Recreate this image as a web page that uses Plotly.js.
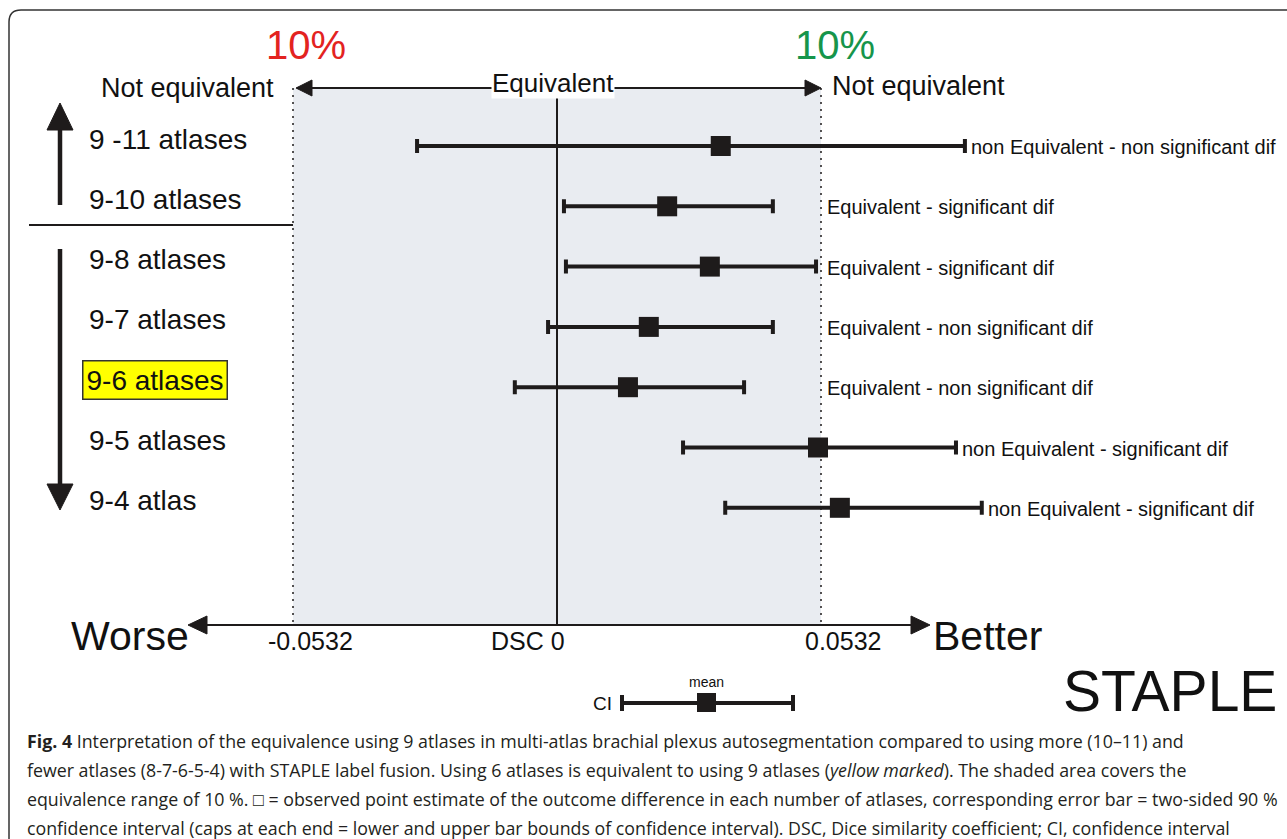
<!DOCTYPE html>
<html><head><meta charset="utf-8">
<script src="https://cdn.plot.ly/plotly-3.0.1.min.js"></script>
<style>html,body{margin:0;padding:0;background:#fff;overflow:hidden}</style>
</head><body><div id="chart" style="width:1287px;height:839px"></div>
<script>
// ---- data ----
const comparisons = ['9 -11 atlases', '9-10 atlases', '9-8 atlases', '9-7 atlases', '9-6 atlases', '9-5 atlases', '9-4 atlas'];
const meanDiff = [0.0330, 0.0222, 0.0308, 0.0185, 0.0143, 0.0526, 0.0570];
const ciLower  = [-0.0282, 0.0014, 0.0018, -0.0018, -0.0085, 0.0254, 0.0339];
const ciUpper  = [0.0822, 0.0435, 0.0522, 0.0435, 0.0377, 0.0804, 0.0856];
const verdicts = [
  'non Equivalent - non significant dif',
  'Equivalent - significant dif',
  'Equivalent - significant dif',
  'Equivalent - non significant dif',
  'Equivalent - non significant dif',
  'non Equivalent - significant dif',
  'non Equivalent - significant dif'
];
const highlighted = '9-6 atlases';
const eqBound = 0.0532;
const eqPercent = '10%';
const methodName = 'STAPLE';
const captionLines = [
  '<b>Fig. 4</b> Interpretation of the equivalence using 9 atlases in multi-atlas brachial plexus autosegmentation compared to using more (10–11) and',
  'fewer atlases (8-7-6-5-4) with STAPLE label fusion. Using 6 atlases is equivalent to using 9 atlases (<i>yellow marked</i>). The shaded area covers the',
  'equivalence range of 10 %. □ = observed point estimate of the outcome difference in each number of atlases, corresponding error bar = two-sided 90 %',
  'confidence interval (caps at each end = lower and upper bar bounds of confidence interval). DSC, Dice similarity coefficient; CI, confidence interval'
];

// ---- geometry (page layout) ----
const W = 1287, H = 839;
const zeroPx = 557, boundPx = 821;
const perPx = eqBound / (boundPx - zeroPx);
const xRange = [-zeroPx * perPx, (W - zeroPx) * perPx];
const rowTop = 146, rowStep = 60.3;
const yRange = [(H - rowTop) / rowStep, -rowTop / rowStep];
const xpx = v => (v - xRange[0]) / (xRange[1] - xRange[0]) * W;
const px = x => x / W, py = y => 1 - y / H;
const path = pts => 'M' + pts.map(p => px(p[0]) + ',' + py(p[1])).join(' L') + ' Z';
const ink = '#1e1b1b';
const FONT = 'Liberation Sans, Arial, sans-serif';

const shapes = [];
const lineP = (x0, y0, x1, y1, w, dash) => shapes.push({type: 'line', xref: 'paper', yref: 'paper',
  x0: px(x0), y0: py(y0), x1: px(x1), y1: py(y1), line: {color: ink, width: w, dash: dash || 'solid'}});
const tri = pts => shapes.push({type: 'path', xref: 'paper', yref: 'paper', path: path(pts),
  fillcolor: ink, line: {color: ink, width: 1}});

// outer frame with rounded corner
shapes.push({type: 'path', xref: 'paper', yref: 'paper',
  path: `M${px(9)},${py(860)} L${px(9)},${py(22)} Q${px(9)},${py(10)} ${px(21)},${py(10)} L${px(1320)},${py(10)}`,
  line: {color: '#333', width: 1.5}});

const L = xpx(-eqBound), R = xpx(eqBound), Z = xpx(0);
// shaded equivalence region
shapes.push({type: 'rect', xref: 'x', yref: 'paper', x0: -eqBound, x1: eqBound, y0: py(625), y1: py(88),
  fillcolor: '#e9ecf1', line: {width: 0}, layer: 'below'});
// dotted bounds
lineP(L, 88, L, 625, 1.5, '2px,5px');
lineP(R, 88, R, 625, 1.5, '2px,5px');
// zero line
lineP(Z, 90, Z, 625, 2);
// top equivalence arrow
lineP(L + 4, 88, R - 4, 88, 2);
tri([[L + 3, 88], [L + 19, 80], [L + 19, 96]]);
tri([[R, 88], [R - 16, 80], [R - 16, 96]]);
// bottom axis arrow
lineP(195, 625, 922, 625, 2);
tri([[188, 625], [207, 616], [207, 634]]);
tri([[930, 625], [911, 616], [911, 634]]);
// left direction arrows and separator
lineP(60, 128, 60, 205, 4.5);
tri([[60, 103], [47, 130], [73, 130]]);
lineP(60, 249, 60, 486, 4.5);
tri([[60, 510], [47, 484], [73, 484]]);
lineP(29, 225, 293, 225, 2);
// key (CI / mean)
lineP(622, 703, 793, 703, 4);
lineP(622, 695, 622, 711, 4);
lineP(793, 695, 793, 711, 4);
shapes.push({type: 'rect', xref: 'paper', yref: 'paper', x0: px(697), x1: px(716), y0: py(712), y1: py(693),
  fillcolor: ink, line: {width: 0}});

// ---- annotations ----
const ann = [];
const txt = (text, x, y, size, opts) => ann.push(Object.assign({text, xref: 'paper', yref: 'paper',
  x: px(x), y: py(y), showarrow: false, xanchor: 'center', yanchor: 'middle',
  font: {family: FONT, size, color: '#111'}}, opts || {}));

txt(eqPercent, 306, 45, 40, {font: {family: FONT, size: 40, color: '#e3231f'}});
txt(eqPercent, 835, 45, 40, {font: {family: FONT, size: 40, color: '#16954b'}});
txt('Not equivalent', 187, 88, 27);
txt('Not equivalent', 830, 86, 27, {xanchor: 'left'});
txt('Equivalent', 553, 83, 26, {bgcolor: '#ffffff', borderpad: 0});
txt('Worse', 191, 636, 41, {xanchor: 'right'});
txt('Better', 931, 636, 41, {xanchor: 'left'});
txt(methodName, 1061, 691, 57, {xanchor: 'left'});
txt('mean', 706, 682, 14);
txt('CI', 614, 703, 19, {xanchor: 'right'});

// tick-like labels on the DSC axis
const tickVals = [-eqBound, 0, eqBound];
const tickText = [(-eqBound).toFixed(4), 'DSC 0', eqBound.toFixed(4)];
const tickShift = [17, -29, 22];
tickVals.forEach((v, i) => ann.push({text: tickText[i], xref: 'x', yref: 'paper', x: v, y: py(641),
  xshift: tickShift[i], showarrow: false, xanchor: 'center', yanchor: 'middle',
  font: {family: FONT, size: 25, color: '#111'}}));

// row labels (left) and verdicts (right)
comparisons.forEach((c, i) => {
  const hi = c === highlighted;
  ann.push({text: c, xref: 'paper', yref: 'y', x: px(hi ? 82 : 89), y: c, yshift: 7,
    showarrow: false, xanchor: 'left', yanchor: 'middle',
    font: {family: FONT, size: 28, color: '#111'},
    bgcolor: hi ? '#ffff00' : 'rgba(0,0,0,0)', bordercolor: hi ? '#333' : 'rgba(0,0,0,0)',
    borderwidth: hi ? 1.5 : 0, borderpad: hi ? 3 : 0});
  ann.push({text: verdicts[i], xref: 'x', yref: 'y', x: Math.max(ciUpper[i], eqBound), y: c,
    xshift: 4, yshift: -1, showarrow: false, xanchor: 'left', yanchor: 'middle',
    font: {family: FONT, size: 20, color: '#111'}});
});

// caption
const capY = [741, 770, 799, 828];
captionLines.forEach((t, i) => txt(t, 25, capY[i], 17.8,
  {xanchor: 'left', font: {family: 'Open Sans, Noto Sans, sans-serif', size: 17.8, color: '#231f20'}}));

// ---- trace ----
const trace = {
  type: 'scatter', mode: 'markers', x: meanDiff, y: comparisons,
  marker: {symbol: 'square', size: 20, color: ink, line: {width: 0}},
  error_x: {type: 'data', symmetric: false,
    array: ciUpper.map((u, i) => u - meanDiff[i]),
    arrayminus: ciLower.map((l, i) => meanDiff[i] - l),
    color: ink, thickness: 4, width: 7},
  hoverinfo: 'skip', showlegend: false
};

const layout = {
  width: W, height: H, autosize: false,
  margin: {l: 0, r: 0, t: 0, b: 0, pad: 0},
  paper_bgcolor: '#ffffff', plot_bgcolor: 'rgba(0,0,0,0)',
  showlegend: false,
  xaxis: {range: xRange, visible: false, showgrid: false, zeroline: false, fixedrange: true},
  yaxis: {type: 'category', categoryorder: 'array', categoryarray: comparisons, range: yRange,
    visible: false, showgrid: false, zeroline: false, fixedrange: true},
  shapes, annotations: ann
};
Plotly.newPlot('chart', [trace], layout, {staticPlot: true, displayModeBar: false});
</script></body></html>
